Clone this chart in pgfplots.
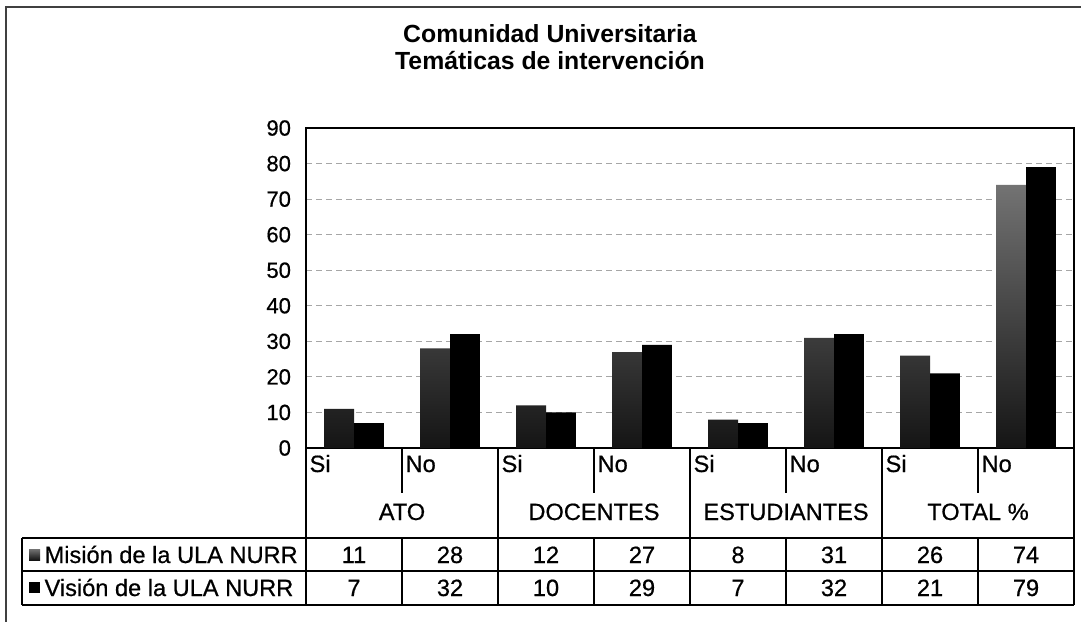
\documentclass[border=0pt]{standalone}
\usepackage{pgfplots}
\pgfplotsset{compat=1.18}
\usepackage{fontspec}
\setmainfont{Liberation Sans}
\newfontfamily\semibold[FakeBold=0.6]{Liberation Sans}
\begin{document}
\begin{tikzpicture}
\begin{scope}[x=0.5pt,y=-0.5pt]
\useasboundingbox (0,0) rectangle (1081,621);
\draw[black!75, line width=0.6pt] (6,640) -- (6,7) -- (1100,7);
\node[font=\bfseries\fontsize{12.4}{15}\selectfont, anchor=base] at (550,42) {Comunidad Universitaria};
\node[font=\bfseries\fontsize{12.4}{15}\selectfont, anchor=base] at (550,69) {Temáticas de intervención};
\end{scope}
\begin{axis}[
  at={(153pt,-224pt)}, anchor=south west,
  scale only axis, width=384pt, height=160pt,
  ymin=0, ymax=90, xmin=-0.5, xmax=7.5,
  ytick={0,10,...,90}, xtick=\empty,
  ymajorgrids,
  major grid style={dash pattern=on 3pt off 2pt, black!35, line width=0.4pt},
  axis line style={black, line width=0.6pt},
  tick style={draw=none},
  /pgf/number format/assume math mode=true,
  yticklabel style={font=\semibold\fontsize{11}{13}\selectfont, xshift=-4pt},
  clip=false,
]
\addplot[ybar, bar width=0.31, bar shift=-0.155, draw=none, top color=black!55, bottom color=black!92]
  coordinates {(0,11) (1,28) (2,12) (3,27) (4,8) (5,31) (6,26) (7,74)};
\addplot[ybar, bar width=0.31, bar shift=0.155, draw=none, fill=black]
  coordinates {(0,7) (1,32) (2,10) (3,29) (4,7) (5,32) (6,21) (7,79)};
\end{axis}
\begin{scope}[x=0.5pt,y=-0.5pt, line width=0.6pt]
% table lines
\draw (22,538) -- (1074,538);
\draw (22,571) -- (1074,571);
\draw (22,605) -- (1074,605);
\draw (22,538) -- (22,605);
\foreach \k in {0,2,4,6,8} { \draw ({306+96*\k},448) -- ({306+96*\k},605); }
\foreach \k in {1,3,5,7} {
  \draw ({306+96*\k},448) -- ({306+96*\k},493);
  \draw ({306+96*\k},538) -- ({306+96*\k},605);
}
\begin{scope}[every node/.style={font=\semibold\fontsize{11.8}{14}\selectfont, inner sep=0pt, anchor=base}]
\foreach \k/\t in {0/Si,1/No,2/Si,3/No,4/Si,5/No,6/Si,7/No} {
  \node[anchor=base west] at ({306+96*\k+3},472) {\t};
}
\foreach \j/\t in {0/ATO,1/DOCENTES,2/ESTUDIANTES,3/TOTAL \%} {
  \node at ({402+192*\j},520) {\t};
}
\foreach \k/\v in {0/11,1/28,2/12,3/27,4/8,5/31,6/26,7/74} {
  \node at ({354+96*\k},563) {\v};
}
\foreach \k/\v in {0/7,1/32,2/10,3/29,4/7,5/32,6/21,7/79} {
  \node at ({354+96*\k},596) {\v};
}
\shade[top color=black!55, bottom color=black!92] (29,549) rectangle (40,560);
\fill[black] (29,582) rectangle (40,593);
\node[anchor=base west] at (44,563) {Misión de la ULA NURR};
\node[anchor=base west] at (44,596) {Visión de la ULA NURR};
\end{scope}
\end{scope}
\end{tikzpicture}
\end{document}
